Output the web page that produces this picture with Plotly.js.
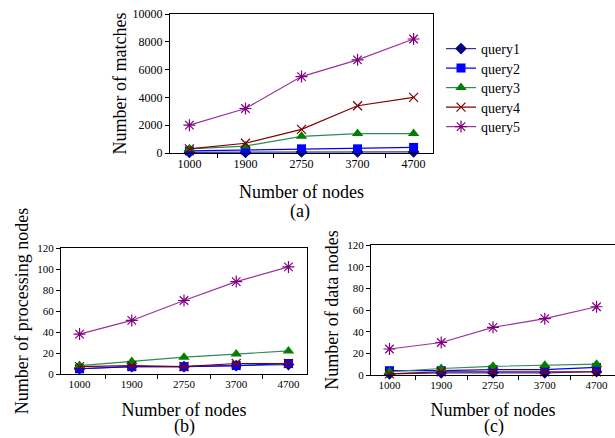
<!DOCTYPE html>
<html><head><meta charset="utf-8">
<script src="https://cdn.plot.ly/plotly-3.0.1.min.js"></script>
<style>html,body{margin:0;padding:0;background:#fff}#chart{width:615px;height:438px}</style>
</head><body><div id="chart"></div>
<script>
const nodes = ["1000", "1900", "2750", "3700", "4700"];
const seriesNames = ["query1", "query2", "query3", "query4", "query5"];
// (a) Number of matches
const matches_q1 = [50, 50, 80, 80, 80];
const matches_q2 = [150, 200, 300, 300, 400];
const matches_q3 = [300, 500, 1200, 1400, 1400];
const matches_q4 = [300, 700, 1700, 3400, 4000];
const matches_q5 = [2000, 3200, 5500, 6700, 8200];
// (b) Number of processing nodes
const proc_q1 = [5, 7, 7, 8, 9];
const proc_q2 = [5, 7, 7, 8, 10];
const proc_q3 = [8, 12, 16, 19, 22];
const proc_q4 = [7, 8, 7, 10, 10];
const proc_q5 = [38, 51, 70, 88, 102];
// (c) Number of data nodes
const data_q1 = [1, 2, 2, 2, 3];
const data_q2 = [4, 4, 5, 5, 7];
const data_q3 = [3, 6, 8, 9, 10];
const data_q4 = [1, 3, 3, 3, 3];
const data_q5 = [24, 30, 44, 52, 63];

const styles = [
  {line: '#3333a0', marker: {symbol: 'diamond', size: 9, color: '#000080'}},
  {line: '#0000ff', marker: {symbol: 'square', size: 9, color: '#0000ff'}},
  {line: '#2e8b57', marker: {symbol: 'triangle-up', size: 10, color: '#008000'}},
  {line: '#800000', marker: {symbol: 'x-thin-open', size: 9, color: '#800000', line: {width: 1.2, color: '#800000'}}},
  {line: '#993399', marker: {symbol: 'asterisk-open', size: 10, color: '#800080', line: {width: 1.2, color: '#800080'}}}
];
const legendIds = ['legend', 'legend2', 'legend3', 'legend4', 'legend5'];

const panels = [
  {xa: 'x', ya: 'y', sets: [matches_q1, matches_q2, matches_q3, matches_q4, matches_q5], legend: true},
  {xa: 'x2', ya: 'y2', sets: [proc_q1, proc_q2, proc_q3, proc_q4, proc_q5], legend: false},
  {xa: 'x3', ya: 'y3', sets: [data_q1, data_q2, data_q3, data_q4, data_q5], legend: false}
];

const traces = [];
panels.forEach(p => {
  p.sets.forEach((vals, i) => {
    traces.push({
      type: 'scatter', mode: 'lines+markers',
      x: nodes, y: vals, name: seriesNames[i],
      xaxis: p.xa, yaxis: p.ya, showlegend: p.legend, legend: legendIds[i],
      line: {color: styles[i].line, width: 1.2},
      marker: styles[i].marker,
      cliponaxis: false
    });
  });
});

const F = 'Liberation Serif';
function xax(domain, anchor, fs, standoff) {
  return {domain: domain, anchor: anchor, type: 'category', showline: true, linecolor: '#000', linewidth: 1,
    mirror: true, ticks: 'outside', tickson: 'boundaries', ticklen: 4, tickcolor: '#000',
    showgrid: false, zeroline: false, tickfont: {family: F, size: fs, color: '#000'},
    title: {text: 'Number of nodes', font: {family: F, size: 18, color: '#000'}, standoff: standoff}};
}
function yax(domain, anchor, range, dtick, title, fs, mirror, standoff) {
  return {domain: domain, anchor: anchor, range: range, dtick: dtick, tickformat: 'd', showline: true, linecolor: '#000', linewidth: 1,
    mirror: mirror, ticks: 'outside', ticklen: 4, tickcolor: '#000', showgrid: false, zeroline: false,
    tickfont: {family: F, size: fs, color: '#000'},
    title: {text: title, font: {family: F, size: 18, color: '#000'}, standoff: standoff}};
}

const legendRows = [49, 68.5, 88, 107.5, 127];

const layout = {
  width: 615, height: 438, margin: {l: 0, r: 0, t: 0, b: 0},
  paper_bgcolor: '#fff', plot_bgcolor: '#fff', showlegend: true,
  font: {family: F, color: '#000'},
  xaxis: xax([170/615, 433/615], 'y', 12, 14),
  yaxis: yax([1-153/438, 1-14/438], 'x', [0, 10000], 2000, 'Number of matches', 12, true, 1),
  xaxis2: xax([61/615, 307/615], 'y2', 11, 14),
  yaxis2: yax([1-374/438, 1-248/438], 'x2', [0, 120], 20, 'Number of processing nodes', 11, true, 3),
  xaxis3: xax([371/615, 1], 'y3', 11, 13),
  yaxis3: yax([1-375/438, 1-245/438], 'x3', [0, 120], 20, 'Number of data nodes', 11, false, 3),
  annotations: [
    {text: '(a)', x: 300/615, y: 1-211/438, xref: 'paper', yref: 'paper', xanchor: 'center', yanchor: 'middle', showarrow: false, font: {family: F, size: 18, color: '#000'}},
    {text: '(b)', x: 184/615, y: 0, xref: 'paper', yref: 'paper', xanchor: 'center', yanchor: 'bottom', showarrow: false, borderpad: 0, font: {family: F, size: 18, color: '#000'}},
    {text: '(c)', x: 494/615, y: 0, xref: 'paper', yref: 'paper', xanchor: 'center', yanchor: 'bottom', showarrow: false, borderpad: 0, font: {family: F, size: 18, color: '#000'}}
  ]
};
legendIds.forEach((id, i) => {
  layout[id] = {x: 441/615, y: 1 - legendRows[i]/438, xanchor: 'left', yanchor: 'middle',
    font: {family: F, size: 14, color: '#000'}, bgcolor: 'rgba(0,0,0,0)', itemwidth: 30};
});
Plotly.newPlot('chart', traces, layout, {displayModeBar: false, staticPlot: true});
</script></body></html>
